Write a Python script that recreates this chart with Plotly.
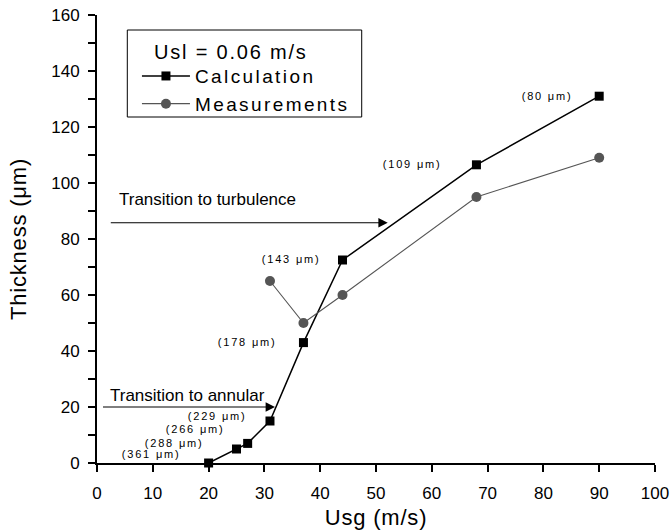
import plotly.graph_objects as go

# Data
usg_calc = [20, 25, 27, 31, 37, 44, 68, 90]
thick_calc = [0, 5, 7, 15, 43, 72.5, 106.5, 131]
usg_meas = [31, 37, 44, 68, 90]
thick_meas = [65, 50, 60, 95, 109]

label_text = ["(361 μm)", "(288 μm)", "(266 μm)", "(229 μm)", "(178 μm)", "(143 μm)", "(109 μm)", "(80 μm)"]
label_x = [9.7, 13.8, 17.5, 21.5, 26.8, 34.7, 56.4, 80.6]
label_y = [3.1, 7.3, 12.1, 16.9, 43.3, 72.8, 106.8, 131.1]

x_ticks = list(range(0, 101, 10))
y_ticks = list(range(0, 161, 20))
y_minor = list(range(10, 160, 20))

FONT = "Liberation Sans, Arial, Helvetica, sans-serif"

fig = go.Figure()
fig.add_trace(go.Scatter(
    x=usg_calc, y=thick_calc, mode="lines+markers", name="Calculation",
    line=dict(color="black", width=1.5),
    marker=dict(symbol="square", size=9, color="black"),
    cliponaxis=False,
))
fig.add_trace(go.Scatter(
    x=usg_meas, y=thick_meas, mode="lines+markers", name="Measurements",
    line=dict(color="#555555", width=1.1),
    marker=dict(symbol="circle", size=10, color="#555555"),
    cliponaxis=False,
))

annotations = []
for t, x, y in zip(label_text, label_x, label_y):
    annotations.append(dict(x=x, y=y, xref="x", yref="y", text=t, showarrow=False,
                            font=dict(family=FONT, size=11, color="black")))

# Transition arrows
annotations.append(dict(x=31.9, y=20, ax=0.8, ay=20, xref="x", yref="y", axref="x", ayref="y",
                        text="", showarrow=True, arrowhead=2, arrowsize=1.7, arrowwidth=1.1,
                        arrowcolor="black"))
annotations.append(dict(x=16.2, y=24.0, xref="x", yref="y", text="Transition to annular",
                        showarrow=False, font=dict(family=FONT, size=17, color="black")))
annotations.append(dict(x=52.1, y=85.8, ax=2.2, ay=85.8, xref="x", yref="y", axref="x", ayref="y",
                        text="", showarrow=True, arrowhead=2, arrowsize=1.7, arrowwidth=1.1,
                        arrowcolor="black"))
annotations.append(dict(x=19.8, y=94.2, xref="x", yref="y", text="Transition to turbulence",
                        showarrow=False, font=dict(family=FONT, size=17, color="black")))
# Legend heading
annotations.append(dict(x=0.0985, y=0.9174, xref="paper", yref="paper", xanchor="left", yanchor="middle",
                        align="left", text="Usl = 0.06 m/s", showarrow=False,
                        font=dict(family=FONT, size=20, color="black")))

fig.update_layout(
    width=670, height=532,
    margin=dict(l=97, r=15, t=15, b=69),
    paper_bgcolor="white", plot_bgcolor="white",
    font=dict(family=FONT, color="black"),
    showlegend=True,
    legend=dict(
        x=0.0716, y=0.906, xanchor="left", yanchor="top",
        bgcolor="rgba(0,0,0,0)", borderwidth=0,
        font=dict(family=FONT, size=19, color="black"),
        itemwidth=48, tracegroupgap=0,
    ),
    shapes=[dict(type="rect", xref="paper", yref="paper", x0=0.0543, x1=0.4744, y0=0.7723, y1=0.9665,
                 line=dict(color="black", width=1), layer="above")],
    annotations=annotations,
)

fig.update_xaxes(
    range=[0, 100], tickvals=x_ticks, automargin=False,
    showline=True, linecolor="black", linewidth=2,
    ticks="outside", ticklen=7, tickwidth=1.5, tickcolor="black", ticklabelstandoff=7,
    showgrid=False, zeroline=False,
    tickfont=dict(family=FONT, size=17, color="black"),
    title=dict(text="Usg (m/s)", standoff=7, font=dict(family=FONT, size=22, color="black")),
)
fig.update_yaxes(
    range=[0, 160], tickvals=y_ticks, automargin=False,
    showline=True, linecolor="black", linewidth=2,
    ticks="outside", ticklen=7, tickwidth=1.5, tickcolor="black", ticklabelstandoff=5,
    minor=dict(tickvals=y_minor, ticks="outside", ticklen=7, tickwidth=1.5, tickcolor="black"),
    showgrid=False, zeroline=False,
    tickfont=dict(family=FONT, size=17, color="black"),
    title=dict(text="Thickness (μm)", standoff=19, font=dict(family=FONT, size=22, color="black")),
)

post = """
var gd = document.getElementById('{plot_id}');
function sp(sel, v, filt){
  gd.querySelectorAll(sel).forEach(function(t){ if(!filt || filt(t)) { t.style.letterSpacing = v; } });
}
sp('.legendtext', '2.4px');
sp('.annotation-text', '1.8px', function(t){ var s = t.textContent; return s.indexOf('\u03bcm') >= 0 || s.indexOf('Usl') >= 0; });
sp('.xtitle, .ytitle', '0.8px');
gd.querySelectorAll('.legend [clip-path], .legend .scrollbox').forEach(function(e){ e.removeAttribute('clip-path'); });
"""

fig.write_html("out.html", post_script=post)
